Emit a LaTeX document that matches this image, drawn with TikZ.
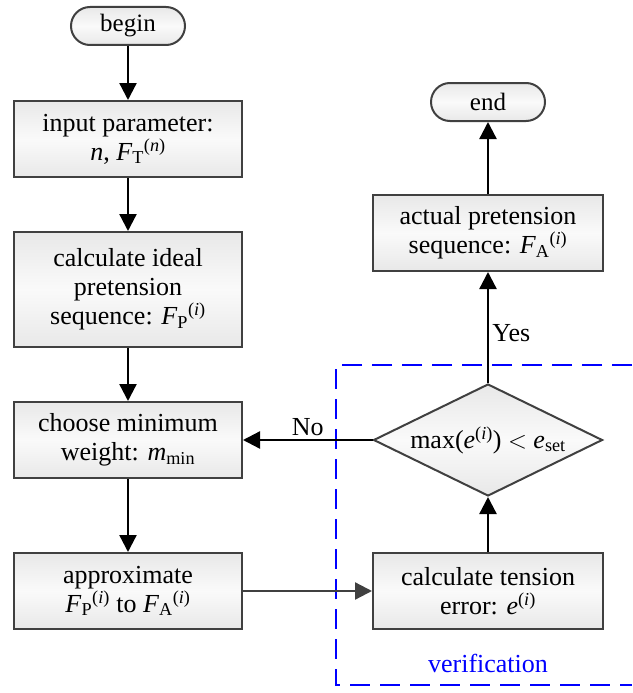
\documentclass[tikz,border=0pt]{standalone}
\usepackage{fontspec}
\setmainfont{Liberation Serif}
\usetikzlibrary{arrows.meta,shapes.geometric,shapes.misc}
\definecolor{edge}{HTML}{404040}
\definecolor{vblue}{HTML}{0000FF}
\newcommand{\mysb}[1]{\textsubscript{#1}}
\newcommand{\mysp}[1]{\textsuperscript{#1}}
\newcommand{\FI}[1]{\textit{F}\mysb{#1}\mysp{(\textit{i})}}
\tikzset{
  procbox/.style={draw=edge, line width=2pt, rectangle, minimum width=228pt, minimum height=76pt,
    align=center, inner sep=2pt, top color=black!9, bottom color=black!9, middle color=black!2,
    font=\fontsize{26pt}{29pt}\selectfont},
  termbox/.style={draw=edge, line width=2pt, rounded rectangle, minimum width=116pt, minimum height=38pt,
    inner sep=1pt, top color=black!9, bottom color=black!9, middle color=black!2,
    font=\fontsize{25pt}{28pt}\selectfont},
  decbox/.style={draw=edge, line width=2pt, diamond, aspect=2, inner sep=0pt,
    minimum width=229pt, minimum height=112pt,
    top color=black!9, bottom color=black!9, middle color=black!2,
    font=\fontsize{26pt}{29pt}\selectfont},
  conn/.style={line width=2.3pt, -{Triangle[length=17pt,width=17pt]}},
  lbl/.style={font=\fontsize{26pt}{29pt}\selectfont},
}
\begin{document}
\begin{tikzpicture}[x=1pt,y=-1pt]
\useasboundingbox (0,0) rectangle (632,693);
% dashed verification region
\draw[vblue, line width=2.2pt, dash pattern=on 20pt off 10pt] (632,365) -- (336,365) -- (336,685) -- (632,685);
\node[lbl, text=vblue] (ver) at (488,663) {verification};

\node[termbox] (begin) at (128,26) {begin};
\node[procbox] (inp) at (128,139) {input parameter:\\\textit{n}, \textit{F}\mysb{T}\mysp{(\textit{n})}};
\node[procbox, minimum height=115pt] (ideal) at (128,289.5) {calculate ideal\\pretension\\sequence: \FI{P}};
\node[procbox] (choose) at (128,440) {choose minimum\\weight: \textit{m}\mysb{min}};
\node[procbox] (approx) at (128,591) {approximate\\\FI{P} to \FI{A}};

\node[procbox, minimum width=230pt] (calc) at (488,591) {calculate tension\\error: \textit{e}\mysp{(\textit{i})}};
\node[decbox] (dec) at (488,440) {max(\textit{e}\mysp{(\textit{i})}) $<$ \textit{e}\mysb{set}};
\node[procbox, minimum width=230pt] (act) at (488,233) {actual pretension\\sequence: \FI{A}};
\node[termbox] (end) at (488,102) {end};

\draw[conn] (begin) -- (inp);
\draw[conn] (inp) -- (ideal);
\draw[conn] (ideal) -- (choose);
\draw[conn] (choose) -- (approx);
\draw[conn, edge] (approx) -- (calc);
\draw[conn] (calc) -- (dec);
\draw[conn] (dec) -- node[lbl, right, pos=0.45] (yes) {Yes} (act);
\draw[conn] (act) -- (end);
\draw[conn] (dec.west) -- node[lbl, above, pos=0.5] (no) {No} (choose.east);
\end{tikzpicture}
\end{document}
